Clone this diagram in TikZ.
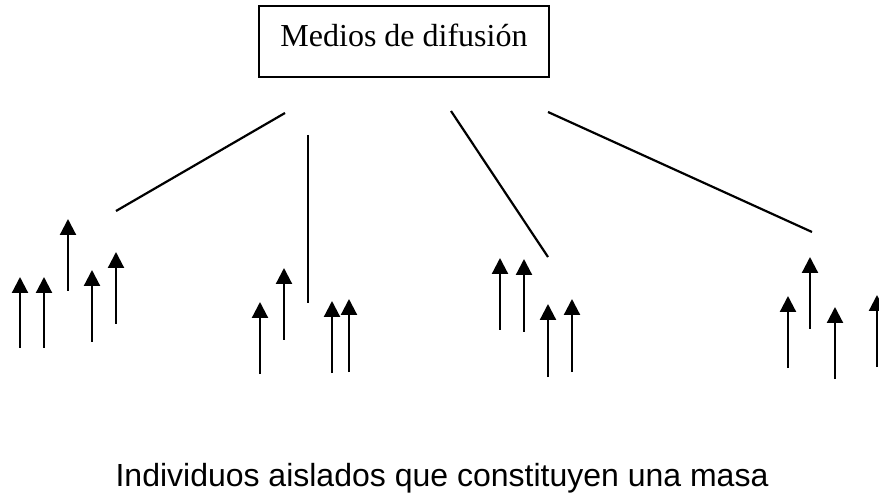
\documentclass[tikz,border=0pt]{standalone}
\usepackage{fontspec}
\setmainfont{Liberation Serif}
\setsansfont{Liberation Sans}
\usetikzlibrary{arrows.meta}

\begin{document}
\begin{tikzpicture}[x=1pt,y=-1pt,line width=2.2pt,
  person/.style={-{Triangle[width=16pt,length=16pt]}},
  every node/.style={font=\fontsize{32}{38}\selectfont}]
\useasboundingbox (0,0) rectangle (879,497);
\node[draw,line width=1.8pt,anchor=base,minimum width=290pt,inner ysep=0pt,
  text height=41pt,text depth=30pt] (media) at (404,47) {Medios de difusión};
% ends of the four lines
\coordinate (s1) at (285,113); \coordinate (e1) at (116,211);
\coordinate (s2) at (308,135); \coordinate (e2) at (308,303);
\coordinate (s3) at (451,111); \coordinate (e3) at (548,257);
\coordinate (s4) at (548,112); \coordinate (e4) at (812,232);
\foreach \i in {1,...,4} \draw (s\i) -- (e\i);
% the isolated individuals
\foreach \px/\ya/\yb in {20/277/348,44/277/348,68/219/291,92/270/342,116/252/324,
  260/302/374,284/268/340,332/301/373,349/299/372,
  500/258/330,524/259/332,548/304/377,572/299/372,
  788/296/368,810/257/329,835/307/379,877/295/367}
  \draw[person] (\px,\yb) -- (\px,\ya);
\node[font=\sffamily\fontsize{32}{38}\selectfont,anchor=base] (mass) at (442,486)
  {Individuos aislados que constituyen una masa};
\end{tikzpicture}
\end{document}
